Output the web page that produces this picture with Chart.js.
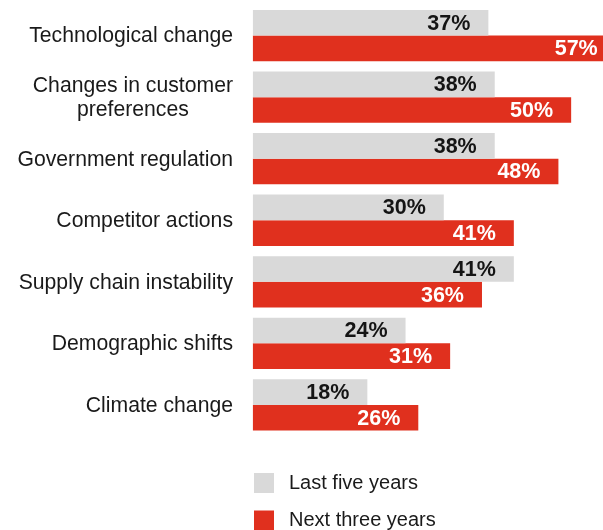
<!DOCTYPE html>
<html>
<head>
<meta charset="utf-8">
<script src="https://cdn.jsdelivr.net/npm/chart.js@4/dist/chart.umd.min.js"></script>
<style>
  html, body { margin: 0; padding: 0; background: #fff; overflow: hidden; }
  #wrap { position: relative; width: 603px; height: 530px; }
</style>
</head>
<body>
<div id="wrap"><canvas id="chart"></canvas></div>
<script>
const categories = [
  ["Technological change"],
  ["Changes in customer", "preferences"],
  ["Government regulation"],
  ["Competitor actions"],
  ["Supply chain instability"],
  ["Demographic shifts"],
  ["Climate change"]
];
const lastFiveYears = [37, 38, 38, 30, 41, 24, 18];
const nextThreeYears = [57, 50, 48, 41, 36, 31, 26];
const seriesNames = ["Last five years", "Next three years"];

const FONT = '"Liberation Sans", Arial, Helvetica, sans-serif';
const GREY = "#d9d9d9";
const RED = "#e0301e";

// category names on the left, right-edged, multi-line names centred on each other
const categoryLabels = {
  id: "categoryLabels",
  afterDraw(chart) {
    const { ctx } = chart;
    const y = chart.scales.y;
    const right = 233;
    const lineH = 24;
    ctx.save();
    ctx.font = "21.2px " + FONT;
    ctx.fillStyle = "#1a1a1a";
    ctx.textAlign = "center";
    ctx.textBaseline = "middle";
    categories.forEach((lines, i) => {
      const w = Math.max(...lines.map((l) => ctx.measureText(l).width));
      const cx = right - w / 2;
      const cy = y.getPixelForValue(i) - ((lines.length - 1) * lineH) / 2 + 1;
      lines.forEach((l, k) => ctx.fillText(l, cx, cy + k * lineH));
    });
    ctx.restore();
  }
};

// percentage written inside the end of each bar
const valueLabels = {
  id: "valueLabels",
  afterDatasetsDraw(chart) {
    const { ctx } = chart;
    const x = chart.scales.x;
    ctx.save();
    ctx.font = "bold 21.5px " + FONT;
    ctx.textAlign = "right";
    ctx.textBaseline = "middle";
    chart.data.datasets.forEach((ds, di) => {
      const meta = chart.getDatasetMeta(di);
      ctx.fillStyle = di === 0 ? "#141414" : "#ffffff";
      meta.data.forEach((bar, i) => {
        ctx.fillText(ds.data[i] + "%", x.getPixelForValue(ds.data[i]) - 18, bar.y + 1);
      });
    });
    ctx.restore();
  }
};

// stacked legend under the bars
const stackedLegend = {
  id: "stackedLegend",
  afterDraw(chart) {
    const { ctx } = chart;
    ctx.save();
    ctx.font = "20px " + FONT;
    ctx.textBaseline = "middle";
    ctx.textAlign = "left";
    chart.data.datasets.forEach((ds, i) => {
      const top = 473 + i * 37.5;
      ctx.fillStyle = ds.backgroundColor;
      ctx.fillRect(254, top, 20, 20);
      ctx.fillStyle = "#1a1a1a";
      ctx.fillText(ds.label, 289, top + 10);
    });
    ctx.restore();
  }
};

new Chart(document.getElementById("chart"), {
  type: "bar",
  data: {
    labels: categories,
    datasets: [
      { label: seriesNames[0], data: lastFiveYears, backgroundColor: GREY },
      { label: seriesNames[1], data: nextThreeYears, backgroundColor: RED }
    ]
  },
  options: {
    indexAxis: "y",
    responsive: true,
    maintainAspectRatio: false,
    animation: false,
    layout: { padding: { left: 252.7, right: 0, top: 4.8, bottom: 94.3 } },
    datasets: { bar: { categoryPercentage: 0.834, barPercentage: 1.0, borderWidth: 0 } },
    scales: {
      x: { display: false, min: 0, max: 55 },
      y: { display: false }
    },
    plugins: { legend: { display: false }, tooltip: { enabled: false } }
  },
  plugins: [categoryLabels, valueLabels, stackedLegend]
});
</script>
</body>
</html>
